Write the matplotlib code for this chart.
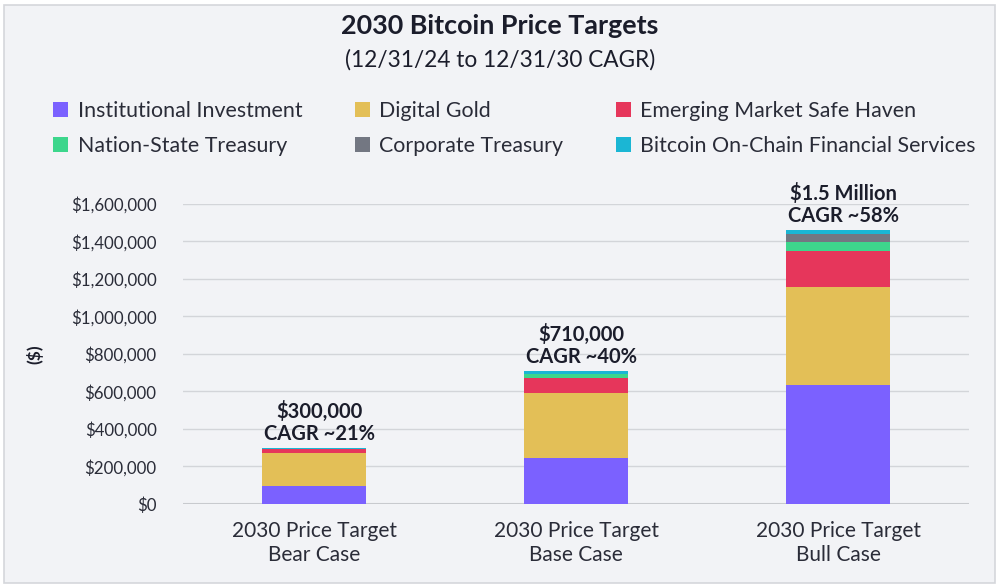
import matplotlib
matplotlib.use("Agg")
import matplotlib.pyplot as plt
from matplotlib.patches import Patch, Rectangle
import numpy as np

plt.rcParams['font.family'] = ['Lato', 'DejaVu Sans']

categories = ["2030 Price Target\nBear Case", "2030 Price Target\nBase Case", "2030 Price Target\nBull Case"]
series_names = ["Institutional Investment", "Digital Gold", "Emerging Market Safe Haven",
                "Nation-State Treasury", "Corporate Treasury", "Bitcoin On-Chain Financial Services"]
institutional = [96000, 244000, 635000]
digital_gold = [178000, 350000, 521000]
emerging_market = [19000, 77000, 195000]
nation_state = [1000, 21000, 48000]
corporate = [1000, 3000, 39000]
on_chain = [5000, 16000, 23000]
totals_labels = ["$300,000\nCAGR ~21%", "$710,000\nCAGR ~40%", "$1.5 Million\nCAGR ~58%"]
yticks = [0, 200000, 400000, 600000, 800000, 1000000, 1200000, 1400000, 1600000]

colors = ["#7B61FF", "#E3BF57", "#E6365B", "#3DD68C", "#737782", "#1BB6D4"]
bg = "#F2F3F6"

fig = plt.figure(figsize=(10, 5.88), dpi=100, facecolor="white")
fig.patches.append(Rectangle((0.004, 0.008), 0.991, 0.984, transform=fig.transFigure,
                             facecolor=bg, edgecolor="#D5D7DB", linewidth=1.2, zorder=-10))
ax = fig.add_axes([0.183, 0.1429, 0.786, 0.5102])
ax.set_facecolor(bg)
ax.patch.set_alpha(0)

x = np.arange(len(categories))
data = [institutional, digital_gold, emerging_market, nation_state, corporate, on_chain]
bottom = np.zeros(len(categories))
handles = []
for name, vals, c in zip(series_names, data, colors):
    ax.bar(x, vals, bottom=bottom, width=0.4, color=c, zorder=3, linewidth=0)
    bottom += np.array(vals)
    handles.append(Patch(facecolor=c, label=name))

for xi, tot, lab in zip(x, bottom, totals_labels):
    ax.text(xi + 0.02, tot + 22000, lab, ha="center", va="bottom", fontsize=14.5,
            fontweight="bold", color="#1B1D2B", linespacing=1.12)

ax.set_xlim(-0.5, 2.5)
ax.set_ylim(0, 1600000)
ax.set_yticks(yticks)
ax.set_yticklabels([f"${v:,.0f}" for v in yticks], fontsize=12.2, color="#2A2C38")
ax.set_xticks(x)
ax.set_xticklabels(categories, fontsize=15, color="#2A2C38", linespacing=1.28)
ax.tick_params(axis="both", length=0)
ax.tick_params(axis="y", pad=19)
ax.tick_params(axis="x", pad=12)
ax.grid(axis="y", color="#D3D5D9", linewidth=1, zorder=0)
for s in ax.spines.values():
    s.set_visible(False)
ax.axhline(0, color="#C8CACE", linewidth=1.5, zorder=2)
ax.set_ylabel("($)", fontsize=12.5, fontweight="bold", color="#1B1D2B", labelpad=20)

fig.text(0.5, 0.955, "2030 Bitcoin Price Targets", ha="center", va="center",
         fontsize=19.4, fontweight="bold", color="#1B1D2B")
fig.text(0.5, 0.898, "(12/31/24 to 12/31/30 CAGR)", ha="center", va="center",
         fontsize=16.3, color="#1B1D2B")

order = [0, 3, 1, 4, 2, 5]
leg = fig.legend([handles[i] for i in order], [series_names[i] for i in order],
                 ncol=3, loc="center left", bbox_to_anchor=(0.034, 0.782),
                 frameon=False, fontsize=15.4, handlelength=0.7, handleheight=0.7,
                 handletextpad=0.45, columnspacing=2.45, labelspacing=0.7,
                 labelcolor="#2A2C38")

fig.savefig("out.png", dpi=100, facecolor="white")
